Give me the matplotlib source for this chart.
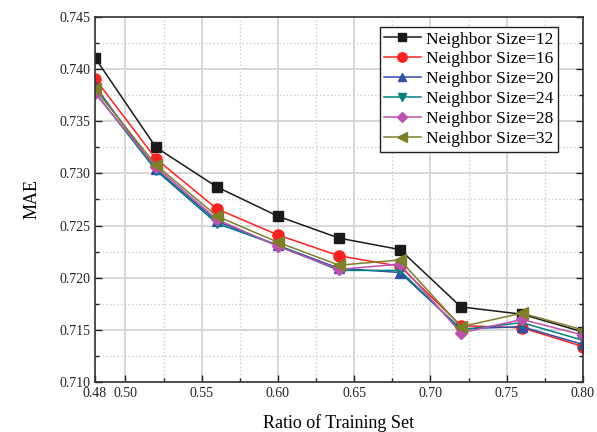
import matplotlib
matplotlib.use("Agg")
import matplotlib.pyplot as plt
from matplotlib.ticker import MultipleLocator, FixedLocator

plt.rcParams['font.family'] = ['Liberation Serif', 'DejaVu Serif']

# data
ratio = [0.48, 0.52, 0.56, 0.60, 0.64, 0.68, 0.72, 0.76, 0.80]
mae_12 = [0.7411, 0.7325, 0.7287, 0.7259, 0.7238, 0.7227, 0.7172, 0.7165, 0.7148]
mae_16 = [0.7391, 0.7314, 0.7266, 0.7241, 0.7221, 0.7211, 0.7154, 0.7152, 0.7134]
mae_20 = [0.7384, 0.7304, 0.7254, 0.7231, 0.7209, 0.7205, 0.7151, 0.7153, 0.7136]
mae_24 = [0.7378, 0.7303, 0.7252, 0.7231, 0.7207, 0.7207, 0.7150, 0.7157, 0.7140]
mae_28 = [0.7377, 0.7306, 0.7256, 0.7230, 0.7208, 0.7213, 0.7147, 0.7160, 0.7145]
mae_32 = [0.7381, 0.7308, 0.7259, 0.7234, 0.7212, 0.7217, 0.7153, 0.7166, 0.7150]

labels = ['Neighbor Size=12', 'Neighbor Size=16', 'Neighbor Size=20',
          'Neighbor Size=24', 'Neighbor Size=28', 'Neighbor Size=32']
series = [mae_12, mae_16, mae_20, mae_24, mae_28, mae_32]
colors = ['#1a1a1a', '#ff2020', '#2f4fa8', '#008080', '#c050b0', '#7f7f2a']
markers = ['s', 'o', '^', 'v', 'D', '<']
msizes = [7, 8, 7.5, 7.5, 6.5, 8]

fig = plt.figure(figsize=(5.97, 4.32), dpi=100)
ax = fig.add_axes([0.159, 0.1157, 0.8175, 0.845])

for y, lab, c, m, ms in zip(series, labels, colors, markers, msizes):
    ax.plot(ratio, y, color=c, marker=m, markersize=ms, linewidth=1.1, label=lab)

ax.set_xlim(0.48, 0.80)
ax.set_ylim(0.710, 0.745)
ax.xaxis.set_major_locator(FixedLocator([0.48, 0.50, 0.55, 0.60, 0.65, 0.70, 0.75, 0.80]))
ax.xaxis.set_minor_locator(FixedLocator([0.525, 0.575, 0.625, 0.675, 0.725, 0.775]))
ax.yaxis.set_major_locator(MultipleLocator(0.005))
ax.yaxis.set_minor_locator(MultipleLocator(0.0025))
ax.set_xticklabels(['0.48', '0.50', '0.55', '0.60', '0.65', '0.70', '0.75', '0.80'])
ax.yaxis.set_major_formatter(plt.FormatStrFormatter('%.3f'))

ax.grid(which='major', color='#d4d4d4', linestyle='-', linewidth=1.3)
ax.grid(which='minor', color='#cccccc', linestyle=':', linewidth=1.0)
ax.set_axisbelow(True)

ax.tick_params(which='both', direction='in', right=True, top=False, labelsize=10, colors='#222222')
ax.tick_params(which='major', length=5, width=1)
ax.tick_params(which='minor', length=3, width=1)
for s in ax.spines.values():
    s.set_linewidth(1.2)
    s.set_color('#333333')

ax.set_xlabel('Ratio of Training Set', fontsize=13, labelpad=10)
ax.set_ylabel('MAE', fontsize=13, labelpad=13)

leg = ax.legend(loc='upper right', bbox_to_anchor=(0.955, 0.982), fontsize=12.5, frameon=True,
                fancybox=False, edgecolor='#222222', framealpha=1, borderpad=0.25,
                labelspacing=0.22, handlelength=2.1, handletextpad=0.3, borderaxespad=0.2,
                markerscale=0.85)
leg.get_frame().set_linewidth(1.0)

fig.savefig('out.png', dpi=100)
